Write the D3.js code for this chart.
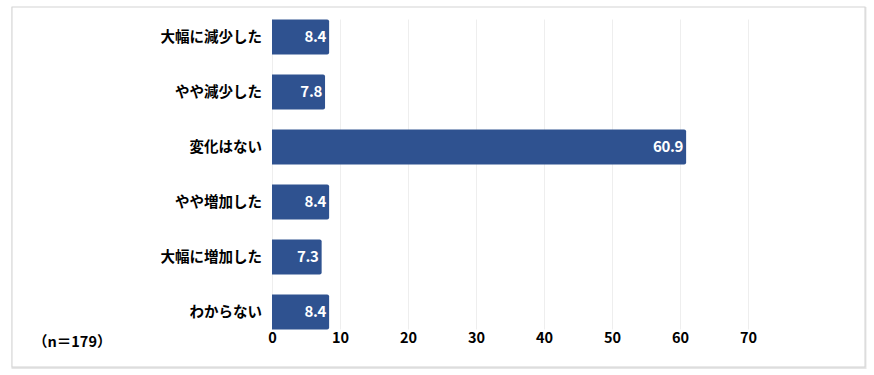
<!DOCTYPE html>
<html>
<head>
<meta charset="utf-8">
<script src="https://cdn.jsdelivr.net/npm/d3@7"></script>
<style>
  body { margin: 0; background: #fff; }
  svg text { font-family: "Noto Sans CJK JP", "Noto Sans", sans-serif; font-weight: 700; }
</style>
</head>
<body>
<div id="chart"></div>
<script>
var categories = ["大幅に減少した", "やや減少した", "変化はない", "やや増加した", "大幅に増加した", "わからない"];
var values = [8.4, 7.8, 60.9, 8.4, 7.3, 8.4];
var xTicks = [0, 10, 20, 30, 40, 50, 60, 70];
var note = "（n＝179）";

var svgWidth = 874;
var svgHeight = 375;

var svg = d3.select("#chart")
  .append("svg")
  .attr("width", svgWidth)
  .attr("height", svgHeight);

// frame
svg.append("rect")
  .attr("x", 12.5).attr("y", 8)
  .attr("width", 853).attr("height", 360)
  .attr("fill", "none")
  .attr("stroke", "#e6e6e6")
  .attr("stroke-width", 2);
svg.append("rect")
  .attr("x", 12).attr("y", 7)
  .attr("width", 853).attr("height", 360)
  .attr("fill", "#fff")
  .attr("stroke", "#d3d3d3")
  .attr("stroke-width", 1);

var x = d3.scaleLinear()
  .domain([0, 70])
  .range([272, 748]);

var y = d3.scaleBand()
  .domain(categories)
  .range([19.5, 329.5])
  .paddingInner(20 / 55)
  .paddingOuter(0);

// gridlines
svg.append("g")
  .selectAll("line")
  .data(xTicks)
  .enter()
  .append("line")
  .attr("x1", d => x(d) + 0.5)
  .attr("x2", d => x(d) + 0.5)
  .attr("y1", 19.5)
  .attr("y2", 329.5)
  .attr("stroke", "#eeeeee")
  .attr("stroke-width", 1);

// bars
svg.append("g")
  .selectAll("path")
  .data(values)
  .enter()
  .append("path")
  .attr("d", function(d, i) {
    var x0 = x(0), x1 = x(d), y0 = y(categories[i]), h = y.bandwidth(), r = 2;
    return "M" + x0 + "," + y0 + "H" + (x1 - r) + "Q" + x1 + "," + y0 + " " + x1 + "," + (y0 + r)
      + "V" + (y0 + h - r) + "Q" + x1 + "," + (y0 + h) + " " + (x1 - r) + "," + (y0 + h)
      + "H" + x0 + "Z";
  })
  .attr("fill", "#2f5290");

// value labels
svg.append("g")
  .selectAll("text")
  .data(values)
  .enter()
  .append("text")
  .attr("x", d => x(d) - 3)
  .attr("y", (d, i) => y(categories[i]) + y.bandwidth() / 2)
  .attr("dy", "0.36em")
  .attr("text-anchor", "end")
  .attr("fill", "#fff")
  .attr("font-size", 15)
  .attr("letter-spacing", "-0.3")
  .text(d => d.toFixed(1));

// category axis
var leftAxis = d3.axisLeft(y).tickSize(0).tickPadding(10);
var yAxis = svg.append("g")
  .attr("transform", "translate(272,0)")
  .call(leftAxis);
yAxis.select(".domain").remove();
yAxis.selectAll("text")
  .attr("font-size", 14.5)
  .attr("fill", "#000")
  .style("font-family", "'Noto Sans CJK JP', sans-serif")
  .style("font-weight", 700);

// value axis
var bottomAxis = d3.axisBottom(x).tickValues(xTicks).tickSize(0).tickPadding(0);
var xAxis = svg.append("g")
  .attr("transform", "translate(0,333)")
  .call(bottomAxis);
xAxis.select(".domain").remove();
xAxis.selectAll("text")
  .attr("font-size", 14.5)
  .attr("fill", "#000")
  .attr("dy", "0.7em")
  .style("font-family", "'Noto Sans CJK JP', sans-serif")
  .style("font-weight", 700);

// sample size note
svg.append("text")
  .attr("x", 33)
  .attr("y", 342)
  .attr("dy", "0.36em")
  .attr("font-size", 14.5)
  .attr("fill", "#000")
  .text(note);
</script>
</body>
</html>
